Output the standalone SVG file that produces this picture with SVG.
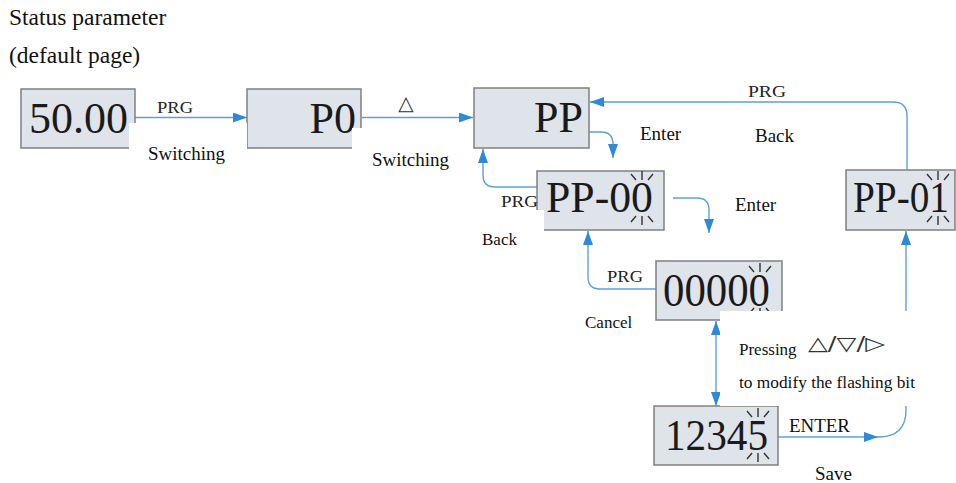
<svg xmlns="http://www.w3.org/2000/svg" width="956" height="483" viewBox="0 0 956 483">
<style>
.box{fill:#dfe3ea;stroke:#808080;stroke-width:1.5}
.big{font-family:"Liberation Serif",serif;font-size:44px;fill:#1a1a1a}
.lbl{font-family:"Liberation Serif",serif;font-size:19px;fill:#111}
.prg{font-family:"Liberation Serif",serif;font-size:16px;fill:#222}
.sym{font-family:"DejaVu Sans",sans-serif;fill:#333}
.conn{fill:none;stroke:#5f9fd8;stroke-width:1.4}
.mask{fill:#ffffff}
.fl{fill:none;stroke:#333;stroke-width:1.4}
</style>
<defs>
<marker id="ah" viewBox="0 0 14 10" refX="14" refY="5" markerWidth="14" markerHeight="10" markerUnits="userSpaceOnUse" orient="auto">
<path d="M0,0 L14,5 L0,10 Z" fill="#2e8ad8"/>
</marker>
<marker id="ahs" viewBox="0 0 14 10" refX="14" refY="5" markerWidth="14" markerHeight="10" markerUnits="userSpaceOnUse" orient="auto-start-reverse">
<path d="M0,0 L14,5 L0,10 Z" fill="#2e8ad8"/>
</marker>
<path id="flash" class="fl" d="M0,-27 V-18 M-11,-24 L-6,-18 M11,-24 L6,-18 M0,18 V27 M-11,24 L-6,18 M11,24 L6,18"/>
</defs>

<text class="lbl" x="9" y="25" font-size="23.5" style="font-size:23.5px">Status parameter</text>
<text class="lbl" x="9" y="63" font-size="23.5" style="font-size:23.5px">(default page)</text>

<g id="connectors">
<path class="conn" d="M135,117.5 H247" marker-end="url(#ah)"/>
<path class="conn" d="M362,117.5 H473" marker-end="url(#ah)"/>
<path class="conn" d="M907,170 V116 Q907,102 893,102 H590" marker-end="url(#ah)"/>
<path class="conn" d="M589,132 H601 Q613,132 613,144 V158" marker-end="url(#ah)"/>
<path class="conn" d="M537,187 H495 Q483,187 483,175 V149" marker-end="url(#ah)"/>
<path class="conn" d="M673,198 H697 Q709,198 709,210 V233" marker-end="url(#ah)"/>
<path class="conn" d="M656,289 H600 Q588,289 588,277 V231" marker-end="url(#ah)"/>
<path class="conn" d="M716,321 V406" marker-start="url(#ahs)" marker-end="url(#ahs)"/>
<path class="conn" d="M778,437 H878" marker-end="url(#ah)"/>
<path class="conn" d="M878,437 Q906,437 906,410 V231" marker-end="url(#ah)"/>
</g>

<g id="n-status">
<rect class="box" x="21" y="89" width="114" height="59"/>
<text class="big" x="29" y="133">50.00</text>
</g>
<g id="n-p0">
<rect class="box" x="247" y="89" width="114" height="59"/>
<text class="big" x="356" y="133" text-anchor="end">P0</text>
</g>
<g id="n-pp">
<rect class="box" x="474" y="88" width="115" height="60"/>
<text class="big" x="583" y="132" text-anchor="end">PP</text>
</g>
<g id="n-pp00">
<rect class="box" x="537" y="171" width="127" height="59"/>
<text class="big" x="546" y="212" textLength="107" lengthAdjust="spacingAndGlyphs">PP-00</text>
<use href="#flash" x="642" y="198"/>
</g>
<g id="n-pp01">
<rect class="box" x="846" y="170" width="109" height="60"/>
<text class="big" x="853" y="212" textLength="96" lengthAdjust="spacingAndGlyphs">PP-01</text>
<use href="#flash" x="938" y="198"/>
</g>
<g id="n-00000">
<rect class="box" x="656" y="261" width="126" height="59"/>
<text class="big" x="663" y="306" textLength="107" lengthAdjust="spacingAndGlyphs" style="font-size:46px">00000</text>
<use href="#flash" x="760" y="290"/>
</g>
<g id="n-12345">
<rect class="box" x="654" y="406" width="124" height="59"/>
<text class="big" x="665" y="450" textLength="103" lengthAdjust="spacingAndGlyphs">12345</text>
<use href="#flash" x="758" y="435"/>
</g>

<g id="masks">
<rect class="mask" x="129" y="123" width="118" height="52"/>
<rect class="mask" x="352" y="128" width="110" height="50"/>
<rect class="mask" x="476" y="210" width="68" height="45"/>
<rect class="mask" x="720" y="311" width="192" height="95"/>
</g>

<g id="labels">
<text class="prg" x="157" y="113" textLength="36" lengthAdjust="spacingAndGlyphs">PRG</text>
<text class="lbl" x="148" y="160">Switching</text>
<text class="sym" x="406" y="110" text-anchor="middle" style="font-size:20px">△</text>
<text class="lbl" x="372" y="166">Switching</text>
<text class="prg" x="748" y="97" textLength="38" lengthAdjust="spacingAndGlyphs">PRG</text>
<text class="lbl" x="755" y="142">Back</text>
<text class="lbl" x="640" y="140">Enter</text>
<text class="prg" x="501" y="207" textLength="37" lengthAdjust="spacingAndGlyphs">PRG</text>
<text class="lbl" x="482" y="245" style="font-size:17px">Back</text>
<text class="lbl" x="735" y="211">Enter</text>
<text class="prg" x="607" y="282" textLength="36" lengthAdjust="spacingAndGlyphs">PRG</text>
<text class="lbl" x="585" y="328" style="font-size:17px">Cancel</text>
<text class="lbl" x="739" y="355" style="font-size:17px">Pressing</text>
<text class="sym" x="808" y="350" style="font-size:19px" textLength="77" lengthAdjust="spacingAndGlyphs">△/▽/▷</text>
<text class="lbl" x="739" y="388" style="font-size:17px" textLength="176" lengthAdjust="spacingAndGlyphs">to modify the flashing bit</text>
<text class="lbl" x="789" y="432" textLength="61" lengthAdjust="spacingAndGlyphs">ENTER</text>
<text class="lbl" x="815" y="480">Save</text>
</g>
</svg>
